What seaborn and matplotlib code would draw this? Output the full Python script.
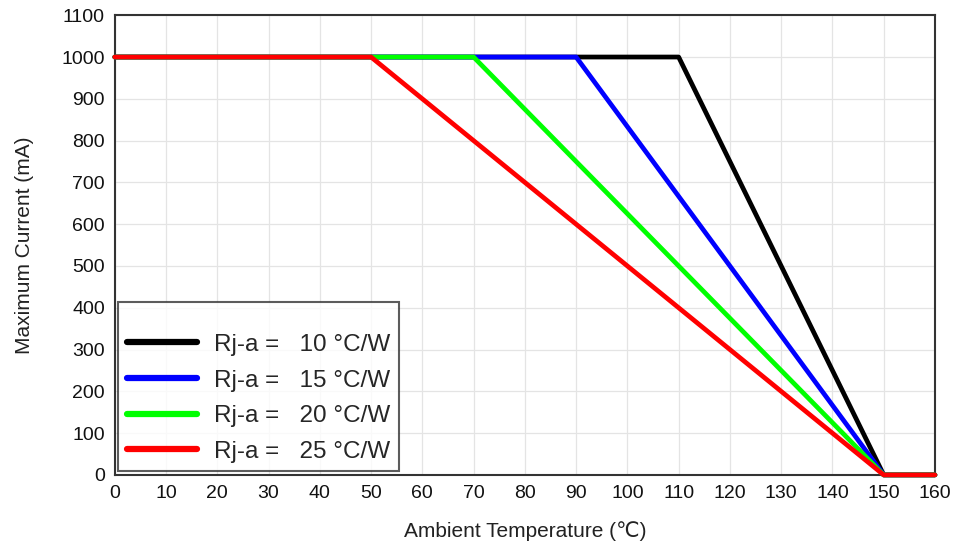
import pandas as pd
import seaborn as sns
import matplotlib.pyplot as plt

# derating curves
labels = ["Rj-a =   10 °C/W", "Rj-a =   15 °C/W", "Rj-a =   20 °C/W", "Rj-a =   25 °C/W"]
knee_temps = [110, 90, 70, 50]
temps_tail = [150, 160]
max_current = 1000
colors = ["#000000", "#0000ff", "#00ff00", "#ff0000"]

rows = []
for lab, knee in zip(labels, knee_temps):
    for t, c in zip([0, knee] + temps_tail, [max_current, max_current, 0, 0]):
        rows.append({"temp": t, "current": c, "series": lab})
df = pd.DataFrame(rows)

sns.set_style("white")
plt.rcParams['font.family'] = ['Liberation Sans', 'DejaVu Sans']

fig, ax = plt.subplots(figsize=(9.56, 5.44), dpi=100)
fig.subplots_adjust(left=0.120, right=0.978, top=0.972, bottom=0.127)

sns.lineplot(data=df, x="temp", y="current", hue="series", palette=colors,
             linewidth=3.4, sort=False, estimator=None, ax=ax)
for ln in ax.get_lines():
    ln.set_clip_on(False)
    ln.set_zorder(3)

ax.set_xlim(0, 160)
ax.set_ylim(0, 1100)
ax.set_xticks(range(0, 161, 10))
ax.set_yticks(range(0, 1101, 100))
ax.grid(True, color="#e4e4e4", linewidth=0.9)
ax.set_axisbelow(True)
for sp in ax.spines.values():
    sp.set_color("#333333")
    sp.set_linewidth(1.5)
    sp.set_zorder(2)
ax.tick_params(labelsize=14, colors="#111111", length=0, pad=7)

ax.set_xlabel("Ambient Temperature (℃)", fontsize=15, color="#222222", labelpad=14)
ax.set_ylabel("Maximum Current (mA)", fontsize=15, color="#222222", labelpad=20)

leg = ax.legend(loc="lower left", fontsize=17.5, frameon=True, fancybox=False,
                edgecolor="#333333", handlelength=2.9, borderpad=0.35,
                labelspacing=0.56, borderaxespad=0.15, title=" ",
                title_fontsize=8, handletextpad=0.7)
leg.get_frame().set_linewidth(1.5)
leg.set_zorder(5)
for line in leg.get_lines():
    line.set_linewidth(4.5)

fig.savefig("out.png", dpi=100)
